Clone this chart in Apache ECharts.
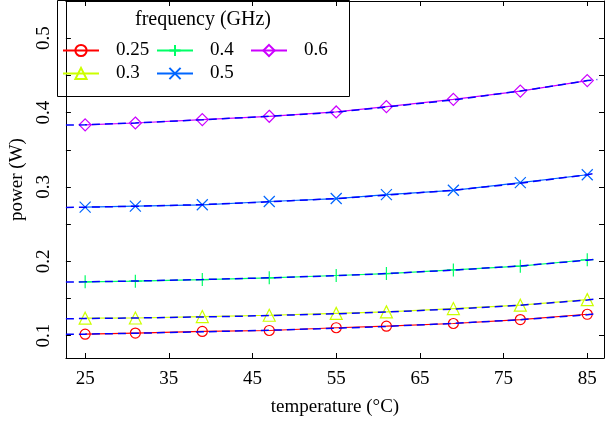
<!DOCTYPE html>
<html>
<head>
<meta charset="utf-8">
<script src="https://cdn.jsdelivr.net/npm/echarts@6/dist/echarts.min.js"></script>
<style>
  body { margin: 0; background: #fff; }
  #main { width: 605px; height: 422px; }
</style>
</head>
<body>
<div id="main"></div>
<script>
// medidas (marcadores)
var temps = [25, 31, 39, 47, 55, 61, 69, 77, 85];
var p025 = [0.1020, 0.1035, 0.1057, 0.1070, 0.1107, 0.1128, 0.1164, 0.1217, 0.1288];
var p03  = [0.1235, 0.1238, 0.1257, 0.1275, 0.1300, 0.1320, 0.1365, 0.1410, 0.1485];
var p04  = [0.1724, 0.1733, 0.1755, 0.1778, 0.1809, 0.1835, 0.1884, 0.1935, 0.2021];
var p05  = [0.2728, 0.2742, 0.2760, 0.2804, 0.2844, 0.2897, 0.2955, 0.3057, 0.3164];
var p06  = [0.3835, 0.3860, 0.3906, 0.3950, 0.4008, 0.4080, 0.4178, 0.4289, 0.4430];

// modelo (linea azul discontinua)
var fitTemps = [22.7, 25, 31, 39, 47, 55, 61, 69, 77, 85, 86.2];
var fit025 = [0.1019, 0.1021, 0.1033, 0.1052, 0.1073, 0.1100, 0.1125, 0.1165, 0.1215, 0.1280, 0.1297];
var fit03  = [0.1228, 0.1231, 0.1238, 0.1252, 0.1270, 0.1295, 0.1318, 0.1358, 0.1410, 0.1480, 0.1497];
var fit04  = [0.1722, 0.1724, 0.1735, 0.1755, 0.1778, 0.1807, 0.1835, 0.1882, 0.1938, 0.2015, 0.2031];
var fit05  = [0.2724, 0.2728, 0.2740, 0.2762, 0.2800, 0.2843, 0.2890, 0.2955, 0.3050, 0.3165, 0.3187];
var fit06  = [0.3832, 0.3835, 0.3860, 0.3903, 0.3950, 0.4005, 0.4075, 0.4170, 0.4290, 0.4430, 0.4444];

var freqs = ['0.25', '0.3', '0.4', '0.5', '0.6'];
// columnas de la leyenda
var legendCols = [['0.25', '0.3'], ['0.4', '0.5'], ['0.6']];
var xTicks = [25, 35, 45, 55, 65, 75, 85];
var yLabels = [0.1, 0.2, 0.3, 0.4, 0.5];
var yTicks = [0.1, 0.15, 0.2, 0.25, 0.3, 0.35, 0.4, 0.45, 0.5];

var colores = ['#ff0000', '#ccff00', '#00ff66', '#0066ff', '#cc00ff'];
var simbolos = [
  'circle',
  'triangle',
  'path://M0,-1V1M-1,0H1',
  'path://M-1,-1L1,1M-1,1L1,-1',
  'diamond'
];
var tamanos = [10, 12, 13, 11, 12];

function pares(xs, ys) {
  return xs.map(function (x, i) { return [x, ys[i]]; });
}

var medidas = [p025, p03, p04, p05, p06];
var modelos = [fit025, fit03, fit04, fit05, fit06];

var fuente = 'Liberation Serif';
var series = [];

freqs.forEach(function (f, i) {
  series.push({
    name: f,
    type: 'line',
    data: pares(temps, medidas[i]),
    symbol: simbolos[i],
    symbolSize: tamanos[i],
    showAllSymbol: true,
    lineStyle: { color: colores[i], width: 1.2 },
    // marcadores huecos: sin relleno, solo borde
    itemStyle: { color: 'none', borderColor: colores[i], borderWidth: 1.2, opacity: 1 },
    z: 2,
    animation: false
  });
});

modelos.forEach(function (m, i) {
  series.push({
    name: 'modelo' + i,
    type: 'line',
    data: pares(fitTemps, m),
    symbol: 'none',
    lineStyle: { color: '#0000ff', width: 1.5, type: [8, 5] },
    z: 3,
    silent: true,
    animation: false
  });
});

var leyendas = legendCols.map(function (col, i) {
  return {
    data: col,
    orient: 'vertical',
    left: 62 + i * 94,
    top: 41,
    padding: 0,
    itemWidth: 36, itemHeight: 14,
    itemGap: 4,
    textStyle: { fontFamily: fuente, fontSize: 19, color: '#000', padding: [0, 0, 0, 12] },
    z: 10
  };
});

var ejeX = {
  type: 'value', min: 22.7, max: 87,
  axisLine: { show: true, lineStyle: { color: '#000', width: 1 } },
  axisTick: { show: true, inside: true, length: 5, customValues: xTicks, lineStyle: { color: '#000' } },
  splitLine: { show: false }
};
var ejeY = {
  type: 'value', min: 0.07, max: 0.55,
  axisLine: { show: true, lineStyle: { color: '#000', width: 1 } },
  axisTick: { show: true, inside: true, length: 5, customValues: yTicks, lineStyle: { color: '#000' } },
  splitLine: { show: false }
};

var option = {
  backgroundColor: '#fff',
  animation: false,
  grid: { left: 57, top: 1, right: 1, bottom: 62 },
  title: {
    text: 'frequency (GHz)',
    left: 203, top: 10, padding: 0,
    textAlign: 'center',
    z: 20,
    textStyle: { fontFamily: fuente, fontWeight: 'normal', fontSize: 20, color: '#000' }
  },
  // recuadro de la leyenda
  graphic: [{
    type: 'rect',
    shape: { x: 57.5, y: 0.5, width: 292, height: 96 },
    style: { fill: 'none', stroke: '#000', lineWidth: 1 },
    silent: true,
    z: 10
  }],
  legend: leyendas,
  xAxis: [
    Object.assign({}, ejeX, {
      position: 'bottom',
      name: 'temperature (°C)',
      nameLocation: 'middle', nameGap: 40,
      nameTextStyle: { fontFamily: fuente, fontSize: 19, color: '#000' },
      axisLabel: { show: true, customValues: xTicks, margin: 12, fontFamily: fuente, fontSize: 19, color: '#000' }
    }),
    Object.assign({}, ejeX, { position: 'top', axisLabel: { show: false } })
  ],
  yAxis: [
    Object.assign({}, ejeY, {
      position: 'left',
      name: 'power (W)',
      nameLocation: 'middle', nameGap: 38, nameRotate: 90,
      nameTextStyle: { fontFamily: fuente, fontSize: 19, color: '#000' },
      axisLabel: { show: true, customValues: yLabels, rotate: 90, margin: 12, fontFamily: fuente, fontSize: 19, color: '#000' }
    }),
    Object.assign({}, ejeY, { position: 'right', axisLabel: { show: false } })
  ],
  series: series
};

var myChart = echarts.init(document.getElementById('main'), null, { renderer: 'canvas' });
myChart.setOption(option);
</script>
</body>
</html>
